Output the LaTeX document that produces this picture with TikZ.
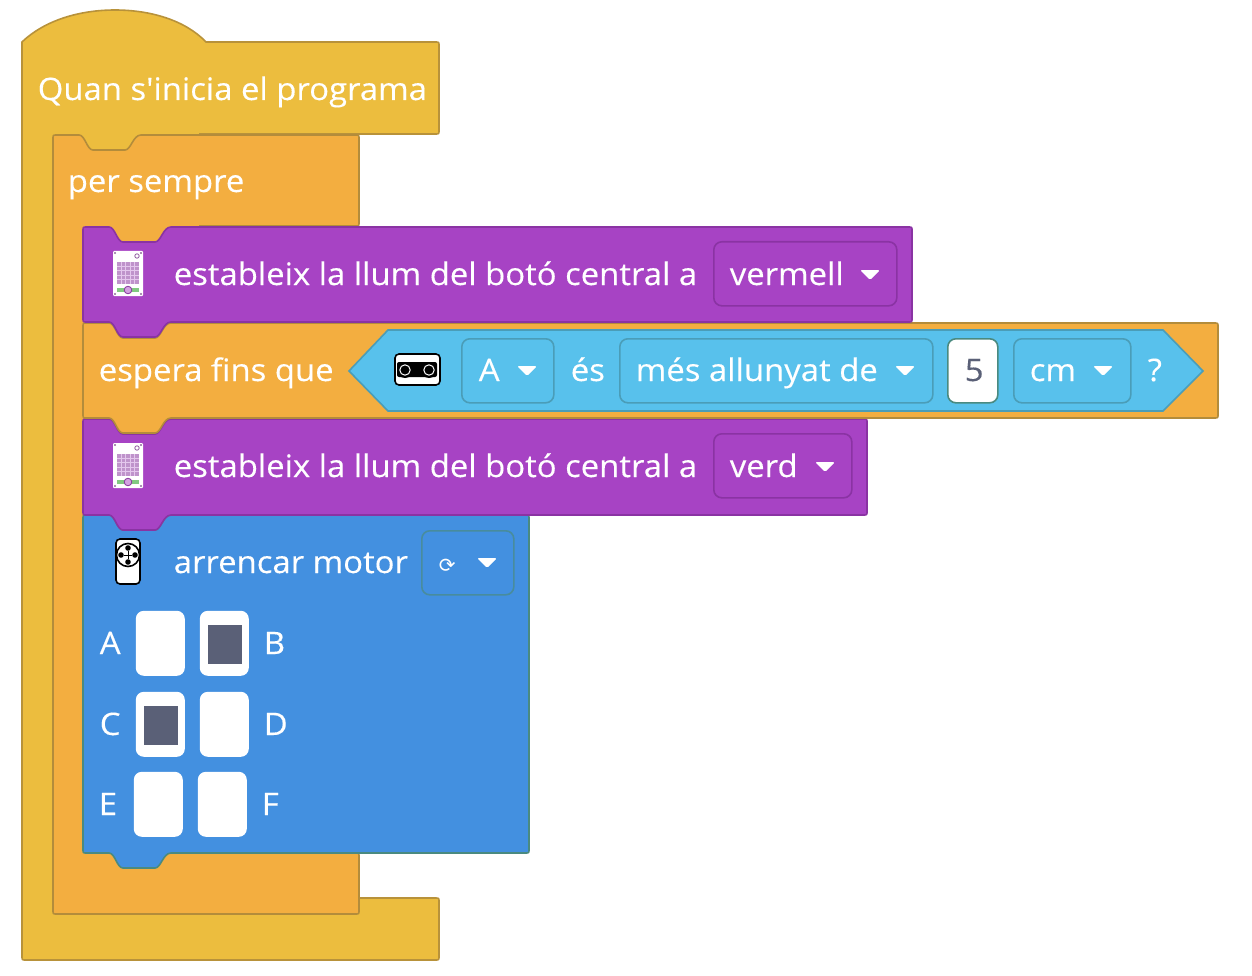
\documentclass[tikz,border=0pt]{standalone}
\usepackage{fontspec}
\newfontfamily\blockfont[FakeStretch=1.06,FakeBold=0.25]{Open Sans}
\newfontfamily\symfont{DejaVu Sans}
\usepackage{xcolor}
\usepackage{tikz}
\usetikzlibrary{positioning}
\definecolor{hatyellow}{HTML}{ECBD3E}
\definecolor{hatedge}{HTML}{B8923A}
\definecolor{ctrlorange}{HTML}{F3AE40}
\definecolor{ctrledge}{HTML}{B38C3B}
\definecolor{lightpurple}{HTML}{A743C4}
\definecolor{purpleedge}{HTML}{8A33A3}
\definecolor{motorblue}{HTML}{4390E0}
\definecolor{blueedge}{HTML}{4A8A80}
\definecolor{sensorcyan}{HTML}{58C1EC}
\definecolor{cyanedge}{HTML}{4A9DB8}
\definecolor{motorgrey}{HTML}{5A6077}
% block with a notch on top and a tab below
\newcommand{\stackblock}[5]{
  \draw[#1] (#2,#3+4) .. controls (#2,#3) .. (#2+4,#3) -- (#2+26,#3)
    .. controls (#2+32,#3) and (#2+34,#3+15) .. (#2+40,#3+15) -- (#2+72,#3+15)
    .. controls (#2+78,#3+15) and (#2+80,#3) .. (#2+88,#3) -- (#4-4,#3)
    .. controls (#4,#3) .. (#4,#3+4) -- (#4,#5-4) .. controls (#4,#5) .. (#4-4,#5)
    -- (#2+88,#5) .. controls (#2+80,#5) and (#2+78,#5+15) .. (#2+72,#5+15) -- (#2+40,#5+15)
    .. controls (#2+34,#5+15) and (#2+32,#5) .. (#2+26,#5) -- (#2+4,#5)
    .. controls (#2,#5) .. (#2,#5-4) -- cycle;
}
\tikzset{
  ddarrow/.pic={\fill[white,rounded corners=1.5pt] (-10,-5) -- (10,-5) -- (0,5) -- cycle;},
  lightbit/.pic={
    \fill[white,rounded corners=1pt] (-15,-23) rectangle (15,22);
    \fill[lightpurple!55!white!80!gray] (-11,-12) rectangle (11,10);
    \foreach \i in {1,2,3,4} {
      \draw[white!70!lightpurple,line width=0.7pt] (-11+\i*4.4,-12) -- ++(0,22);
      \draw[white!70!lightpurple,line width=0.7pt] (-11,-12+\i*4.4) -- ++(22,0);
    }
    \fill[green!40!gray!70!white] (-11,14) rectangle (11,18);
    \draw[lightpurple!80!black,fill=lightpurple!50!white,line width=0.8pt] (0,16) circle (3.8);
    \draw[lightpurple!50!gray,line width=0.8pt] (9,-18) circle (2.2);
    \foreach \cx/\cy in {-13/-21,13/-21,-13/20,13/20} \fill[lightpurple!40!gray] (\cx,\cy) circle (1.1);
  }
}
\begin{document}
\begin{tikzpicture}[x=1pt,y=-1pt,line width=1.6pt,
    every node/.style={font=\blockfont\fontsize{31}{36}\selectfont,text=white,inner sep=0pt},
    blocktext/.style={anchor=base west},
    ddbox/.style={anchor=north west,draw,rounded corners=8pt,minimum height=64pt},
    checkbox/.style={anchor=north west,fill=white,rounded corners=8pt,minimum width=49pt,minimum height=65pt},
    motoron/.style={fill=motorgrey,minimum width=34pt,minimum height=39pt}]
  \useasboundingbox (0,0) rectangle (1252,976);
  % hat and loop
  \draw[hatedge,fill=hatyellow] (22,42) .. controls (45,20) and (80,10) .. (115,10)
    .. controls (150,10) and (185,20) .. (206,42) -- (435,42) .. controls (439,42) .. (439,46)
    -- (439,130) .. controls (439,134) .. (435,134) -- (200,134) -- (200,898) -- (435,898)
    .. controls (439,898) .. (439,902) -- (439,956) .. controls (439,960) .. (435,960)
    -- (26,960) .. controls (22,960) .. (22,956) -- cycle;
  \draw[ctrledge,fill=ctrlorange] (53,139) .. controls (53,135) .. (57,135) -- (79,135)
    .. controls (85,135) and (87,150) .. (93,150) -- (125,150)
    .. controls (131,150) and (133,135) .. (141,135) -- (355,135) .. controls (359,135) .. (359,139)
    -- (359,222) .. controls (359,226) .. (355,226) -- (200,226) -- (200,853) -- (355,853)
    .. controls (359,853) .. (359,857) -- (359,910) .. controls (359,914) .. (355,914)
    -- (57,914) .. controls (53,914) .. (53,910) -- cycle;
  % stack, lowest first
  \stackblock{blueedge,fill=motorblue}{83}{515}{529}{853}
  \stackblock{purpleedge,fill=lightpurple}{83}{419}{867}{515}
  \stackblock{ctrledge,fill=ctrlorange}{83}{323}{1218}{418}
  \stackblock{purpleedge,fill=lightpurple}{83}{227}{912}{322}
  % first light block
  \pic at (128,274) {lightbit};
  \node[blocktext] (hattext) at (37,100) {Quan s'inicia el programa};
  \node[blocktext] (looptext) at (67,192) {per sempre};
  \node[blocktext] (lighttexta) at (173,285) {estableix la llum del botó central a};
  \node[ddbox,purpleedge,minimum width=183pt] (ddvermell) at (713,241) {};
  \node[blocktext] (vermelltext) at (729,285) {vermell};
  \pic at (870,275) {ddarrow};
  % wait block
  \draw[cyanedge,fill=sensorcyan] (349,371) -- (388,330) -- (1163,330) -- (1203,371) -- (1163,411) -- (388,411) -- cycle;
  \node[blocktext] (waittext) at (98,381) {espera fins que};
  \draw[black,fill=white,rounded corners=4pt] (395,354) rectangle (440,385);
  \fill[black,rounded corners=2pt] (397,362) rectangle (437,377);
  \foreach \x in {405,429} {
    \fill[black] (\x,370) circle (8);
    \draw[white,line width=1pt] (\x,370) circle (5.2);
  }
  \foreach \name/\x/\w in {a/461/92,dist/619/313,unit/1013/117} {
    \node[ddbox,cyanedge,minimum width=\w pt] (dd\name) at (\x,338) {};
  }
  \node[anchor=north west,draw=blueedge,fill=white,rounded corners=8pt,minimum width=50pt,minimum height=64pt] (inputfive) at (947,338) {};
  \node[blocktext] (atext) at (478,381) {A};
  \pic at (527,371) {ddarrow};
  \node[blocktext] (estext) at (570,381) {és};
  \node[blocktext] (disttext) at (635,381) {més allunyat de};
  \pic at (905,371) {ddarrow};
  \node[blocktext,text=motorgrey] (fivetext) at (964,381) {5};
  \node[blocktext] (unittext) at (1029,381) {cm};
  \pic at (1103,371) {ddarrow};
  \node[blocktext] (asktext) at (1147,381) {?};
  % second light block
  \pic at (128,466) {lightbit};
  \node[blocktext] (lighttextb) at (173,477) {estableix la llum del botó central a};
  \node[ddbox,purpleedge,minimum width=138pt] (ddverd) at (713,433) {};
  \node[blocktext] (verdtext) at (729,477) {verd};
  \pic at (825,467) {ddarrow};
  % motor block
  \draw[black,fill=white,rounded corners=4pt] (116,539) rectangle (140,584);
  \draw[black] (128,555) circle (11.5);
  \foreach \dx/\dy in {-7/0,7/0,0/-7,0/7} {
    \fill[black] (128+\dx,555+\dy) circle (2.8);
  }
  \draw[black,line width=1pt] (124,555) -- (132,555) (128,551) -- (128,559);
  \node[blocktext] (motortext) at (173,573) {arrencar motor};
  \node[ddbox,blueedge!70!motorblue,minimum width=92pt] (ddturn) at (421,530) {};
  \node[blocktext,font=\symfont\fontsize{20}{24}\selectfont] (turntext) at (438,572) {⟳};
  \pic at (487,563) {ddarrow};
  \foreach \name/\x/\y in {a/135/610,b/199/610,c/135/691,d/199/691,e/133/771,f/197/771} {
    \node[checkbox] (cb\name) at (\x,\y) {};
  }
  \node[motoron] (onb) at ([shift={(1,1)}]cbb) {};
  \node[motoron] (onc) at ([shift={(1,1)}]cbc) {};
  \foreach \name/\txt/\x/\y in {la/A/99/654,lb/B/263/654,lc/C/99/735,ld/D/263/735,le/E/98/815,lf/F/261/815} {
    \node[blocktext] (\name) at (\x,\y) {\txt};
  }
\end{tikzpicture}
\end{document}
